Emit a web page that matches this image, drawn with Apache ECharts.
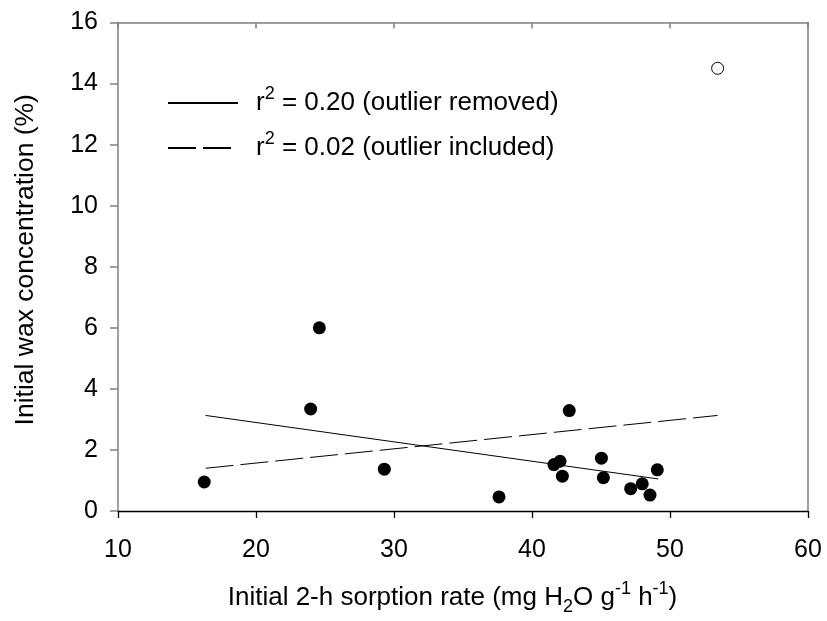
<!DOCTYPE html>
<html>
<head>
<meta charset="utf-8">
<script src="https://cdn.jsdelivr.net/npm/echarts@6/dist/echarts.min.js"></script>
<style>
  html, body { margin: 0; padding: 0; background: #fff; }
  #chart { width: 827px; height: 621px; }
</style>
</head>
<body>
<div id="chart"></div>
<script>
// Sorption rate (mg H2O g-1 h-1) and initial wax concentration (%) per sample
const sorptionRate = [16.25, 23.96, 24.59, 29.30, 37.61, 41.59, 42.03, 42.20, 42.70, 45.03, 45.17, 47.15, 47.99, 48.55, 49.08];
const waxConc      = [0.95,  3.34,  6.00,  1.37,  0.46,  1.52,  1.63,  1.14,  3.29,  1.73,  1.09,  0.73,  0.89,  0.52,  1.35];

// The single outlying sample
const outlierRate = [53.45];
const outlierWax  = [14.5];

// Regression lines (end points)
const fitRemovedX  = [16.35, 49.15];
const fitRemovedY  = [3.13, 1.05];
const fitIncludedX = [16.35, 53.45];
const fitIncludedY = [1.40, 3.13];

// Legend labels
const fitR2     = ['0.20', '0.02'];
const fitLabels = ['outlier removed', 'outlier included'];

// Axis ticks
const xTicks = [10, 20, 30, 40, 50, 60];
const yTicks = [0, 2, 4, 6, 8, 10, 12, 14, 16];

const FONT = "'Liberation Sans', Arial, sans-serif";
const GREY = '#808080';

const pairs = (xs, ys) => xs.map((x, i) => [x, ys[i]]);
const seriesNames = fitLabels.map((l, i) => 'r2 = ' + fitR2[i] + ' (' + l + ')');

const chart = echarts.init(document.getElementById('chart'), null, { renderer: 'canvas' });

const xRange = { min: xTicks[0], max: xTicks[xTicks.length - 1], interval: xTicks[1] - xTicks[0] };
const yRange = { min: yTicks[0], max: yTicks[yTicks.length - 1], interval: yTicks[1] - yTicks[0] };

chart.setOption({
  animation: false,
  backgroundColor: '#fff',
  textStyle: { fontFamily: FONT, color: '#000' },
  grid: { left: 118, right: 19, top: 22.5, bottom: 108, containLabel: false },
  legend: {
    data: seriesNames,
    orient: 'vertical',
    left: 167,
    top: 85,
    padding: 0,
    itemWidth: 70,
    itemHeight: 14,
    itemGap: 14,
    selectedMode: false,
    itemStyle: { opacity: 0, borderWidth: 0 },
    formatter: function (name) {
      const i = seriesNames.indexOf(name);
      return '{b|r}{sup|2}{b| = ' + fitR2[i] + ' (' + fitLabels[i] + ')}';
    },
    textStyle: {
      padding: [0, 0, 0, 13],
      color: '#000',
      rich: {
        b: { fontSize: 26, lineHeight: 36, fontFamily: FONT, color: '#000' },
        sup: { fontSize: 18, lineHeight: 18, verticalAlign: 'top', fontFamily: FONT, color: '#000' }
      }
    }
  },
  xAxis: [
    {
      type: 'value', position: 'bottom', ...xRange,
      axisLine: { onZero: false, lineStyle: { color: '#000', width: 1.3 } },
      axisTick: { length: 7, lineStyle: { color: '#000', width: 1.3 } },
      axisLabel: { fontSize: 25, color: '#000', margin: 27, fontFamily: FONT },
      splitLine: { show: false },
      name: '{b|Initial 2-h sorption rate (mg H}{sub|2}{b|O g}{sup|-1}{b| h}{sup|-1}{b|)}',
      nameLocation: 'middle',
      nameGap: 69,
      nameTextStyle: {
        padding: [0, 21, 0, 0],
        rich: {
          b: { fontSize: 26, lineHeight: 36, fontFamily: FONT, color: '#000' },
          sub: { fontSize: 18, lineHeight: 19, verticalAlign: 'bottom', fontFamily: FONT, color: '#000' },
          sup: { fontSize: 18, lineHeight: 8, verticalAlign: 'top', fontFamily: FONT, color: '#000' }
        }
      }
    },
    {
      type: 'value', position: 'top', ...xRange,
      axisLine: { onZero: false, lineStyle: { color: GREY, width: 1.5 } },
      axisTick: { inside: true, length: 6, lineStyle: { color: GREY, width: 1.5 } },
      axisLabel: { show: false },
      splitLine: { show: false }
    }
  ],
  yAxis: [
    {
      type: 'value', position: 'left', ...yRange,
      axisLine: { show: true, onZero: false, lineStyle: { color: GREY, width: 1.5 } },
      axisTick: { show: true, length: 8, lineStyle: { color: GREY, width: 1.5 } },
      axisLabel: { fontSize: 25, color: '#000', margin: 20, fontFamily: FONT },
      splitLine: { show: false },
      name: 'Initial wax concentration (%)',
      nameLocation: 'middle',
      nameGap: 79,
      nameTextStyle: { fontSize: 26.5, color: '#000', fontFamily: FONT, padding: [0, 0, 0, 14] }
    },
    {
      type: 'value', position: 'right', ...yRange,
      axisLine: { show: true, onZero: false, lineStyle: { color: GREY, width: 1.5 } },
      axisTick: { show: false },
      axisLabel: { show: false },
      splitLine: { show: false }
    }
  ],
  series: [
    {
      name: seriesNames[0], type: 'line', xAxisIndex: 0, yAxisIndex: 0,
      data: pairs(fitRemovedX, fitRemovedY),
      symbol: 'none', showSymbol: false,
      lineStyle: { color: '#000', width: 1, type: 'solid' },
      itemStyle: { color: '#000' }, z: 2
    },
    {
      name: seriesNames[1], type: 'line', xAxisIndex: 0, yAxisIndex: 0,
      data: pairs(fitIncludedX, fitIncludedY),
      symbol: 'none', showSymbol: false,
      lineStyle: { color: '#000', width: 1, type: [28, 7] },
      itemStyle: { color: '#000' }, z: 2
    },
    {
      name: 'samples', type: 'scatter', xAxisIndex: 0, yAxisIndex: 0,
      data: pairs(sorptionRate, waxConc),
      symbol: 'circle', symbolSize: 13,
      itemStyle: { color: '#000', opacity: 1 }, z: 3
    },
    {
      name: 'outlier', type: 'scatter', xAxisIndex: 0, yAxisIndex: 0,
      data: pairs(outlierRate, outlierWax),
      symbol: 'circle', symbolSize: 12,
      itemStyle: { color: '#fff', borderColor: '#000', borderWidth: 1, opacity: 1 }, z: 3
    }
  ]
});
</script>
</body>
</html>
